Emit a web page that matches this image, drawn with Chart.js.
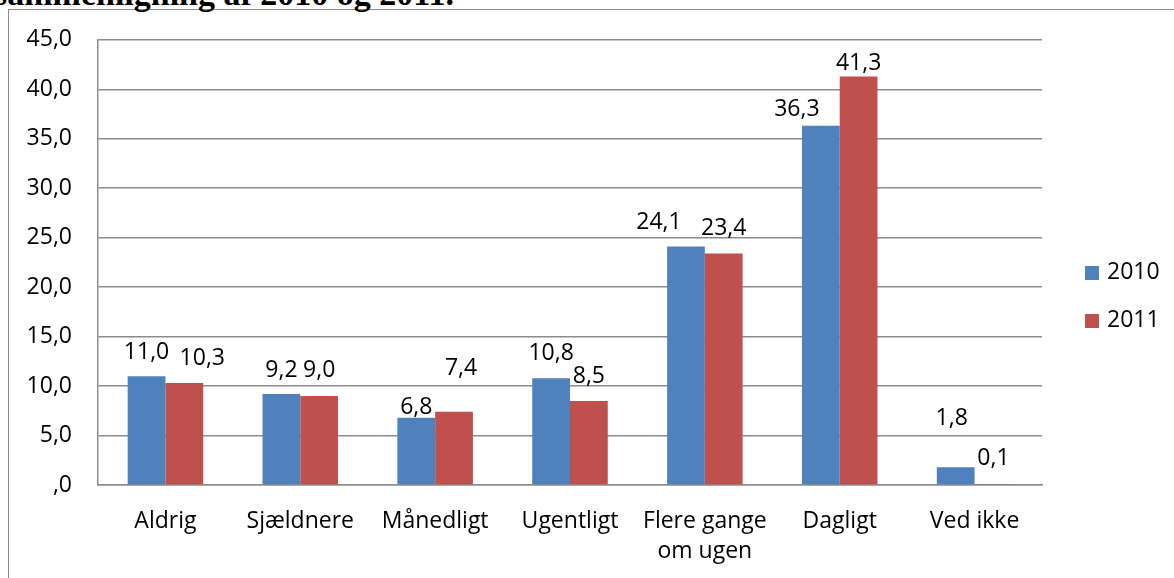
<!DOCTYPE html>
<html>
<head>
<meta charset="utf-8">
<script src="https://cdn.jsdelivr.net/npm/chart.js@4/dist/chart.umd.min.js"></script>
<style>
  html, body { margin: 0; padding: 0; background: #fff; overflow: hidden; }
  #wrap { position: relative; width: 1174px; height: 578px; overflow: hidden; }
  #frame { position: absolute; left: 8px; top: 9px; width: 2000px; height: 2000px;
           border: 1.5px solid #8c8c8c; box-sizing: border-box; }
  #heading { position: absolute; left: -6px; top: -23px; margin: 0; white-space: nowrap;
             font-family: "Liberation Serif", serif; font-weight: bold; font-size: 34px;
             line-height: 34px; color: #000; }
  canvas { position: absolute; left: 0; top: 0; }
</style>
</head>
<body>
<div id="wrap">
  <div id="frame"></div>
  <div id="heading">sammenligning af 2010 og 2011.</div>
  <canvas id="c" width="1174" height="578"></canvas>
</div>
<script>
// ---- data ----
const categories = ["Aldrig", "Sjældnere", "Månedligt", "Ugentligt", ["Flere gange", "om ugen"], "Dagligt", "Ved ikke"];
const seriesNames = ["2010", "2011"];
const values2010 = [11.0, 9.2, 6.8, 10.8, 24.1, 36.3, 1.8];
const values2011 = [10.3, 9.0, 7.4, 8.5, 23.4, 41.3, 0.1];
const yTicks = [0, 5, 10, 15, 20, 25, 30, 35, 40, 45];

const FONT = '"Open Sans", "Noto Sans", sans-serif';
const FS = 23;
const colors = ["#4F81BD", "#C0504D"];
const GRID = "#8c8c8c";

function fmt(v) {
  if (v === 0) return ",0";
  return v.toFixed(1).replace(".", ",");
}

// label nudges (px) relative to the bar top-centre, [dx, dyBaseline]
const labelNudges = [
  [[0,-17],[0,-17],[0,-4],[0,-18],[-27,-18],[-24,-10],[-4,-42]],
  [[18,-18],[0,-19],[7,-37],[0,-18],[0,-18],[0,-6],[0,-19]]
];

const dataLabels = {
  id: "dataLabels",
  afterDatasetsDraw(chart) {
    const ctx = chart.ctx;
    ctx.save();
    ctx.font = FS + "px " + FONT;
    ctx.fillStyle = "#000";
    ctx.textAlign = "center";
    ctx.textBaseline = "alphabetic";
    chart.data.datasets.forEach((ds, di) => {
      const meta = chart.getDatasetMeta(di);
      meta.data.forEach((el, i) => {
        const n = labelNudges[di][i];
        ctx.fillText(fmt(ds.data[i]), el.x + n[0], el.y + n[1]);
      });
    });
    ctx.restore();
  }
};

const customLegend = {
  id: "customLegend",
  afterDraw(chart) {
    const ctx = chart.ctx;
    ctx.save();
    ctx.font = FS + "px " + FONT;
    ctx.textAlign = "left";
    ctx.textBaseline = "alphabetic";
    const baselines = [279, 327];
    chart.data.datasets.forEach((ds, di) => {
      const b = baselines[di];
      ctx.fillStyle = ds.backgroundColor;
      ctx.fillRect(1085, b - 13, 14, 14);
      ctx.fillStyle = "#000";
      ctx.fillText(ds.label, 1107, b);
    });
    ctx.restore();
  }
};

new Chart(document.getElementById("c"), {
  type: "bar",
  data: {
    labels: categories,
    datasets: [
      { label: seriesNames[0], data: values2010, backgroundColor: colors[0] },
      { label: seriesNames[1], data: values2011, backgroundColor: colors[1] }
    ]
  },
  options: {
    responsive: false,
    devicePixelRatio: 1,
    animation: false,
    layout: { padding: { left: 0, right: 132, top: 38, bottom: 0 } },
    datasets: { bar: { categoryPercentage: 0.56, barPercentage: 1.0, borderWidth: 0 } },
    plugins: {
      legend: { display: false },
      title: { display: false },
      tooltip: { enabled: false }
    },
    scales: {
      x: {
        grid: { display: false, drawTicks: false },
        border: { display: true, color: GRID, width: 1.5 },
        ticks: { color: "#000", font: { family: FONT, size: FS, lineHeight: 1.3 }, padding: 22, maxRotation: 0, autoSkip: false },
        afterFit(s) { s.height = 93; }
      },
      y: {
        min: 0, max: 45,
        afterBuildTicks(s) { s.ticks = yTicks.map(v => ({ value: v })); },
        grid: { color: GRID, lineWidth: 1.5, drawTicks: false },
        border: { display: true, color: GRID, width: 1.5 },
        ticks: { color: "#000", font: { family: FONT, size: FS }, padding: 26, callback: v => fmt(v) },
        afterFit(s) { s.width = 98; }
      }
    }
  },
  plugins: [dataLabels, customLegend]
});
</script>
</body>
</html>
